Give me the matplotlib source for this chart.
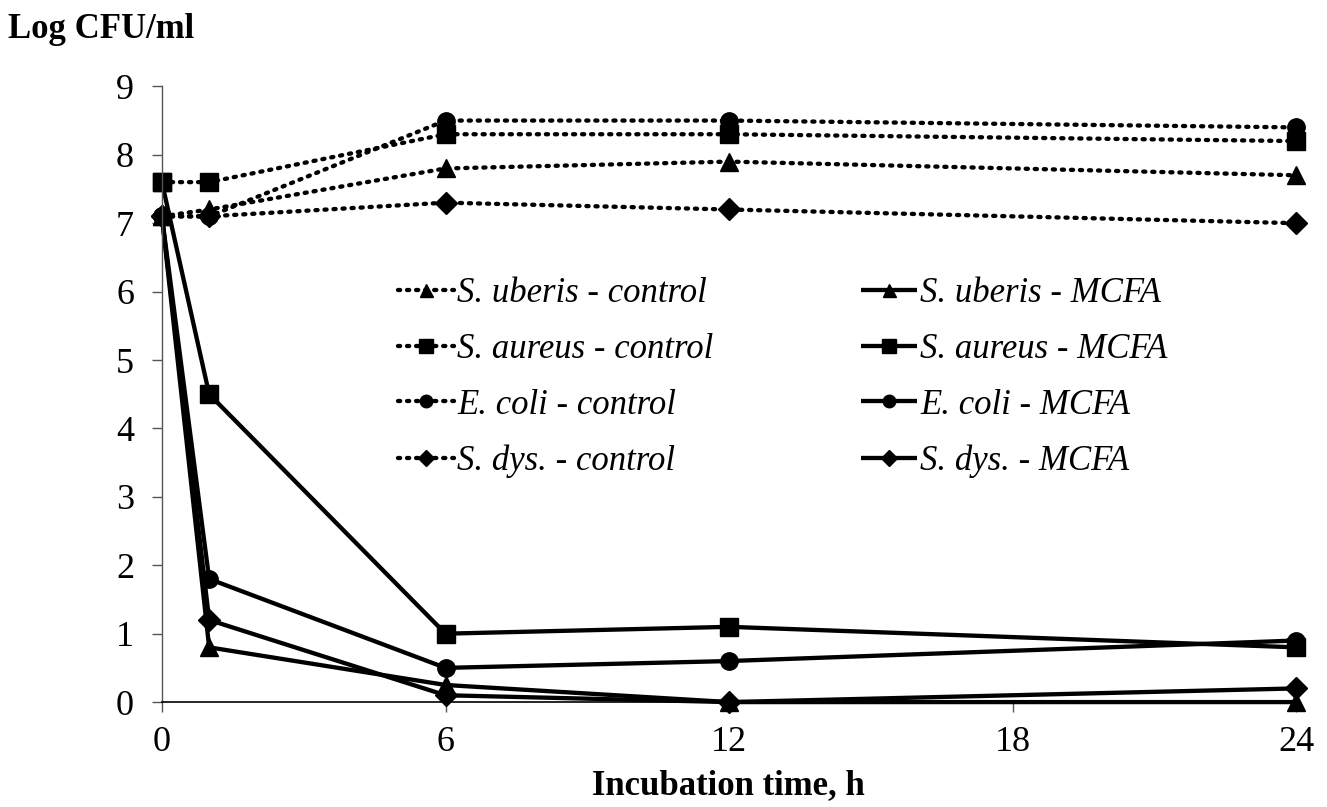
import matplotlib
matplotlib.use("Agg")
import matplotlib.pyplot as plt

time_h = [0, 1, 6, 12, 24]

uberis_control = [7.1, 7.2, 7.8, 7.9, 7.7]
aureus_control = [7.6, 7.6, 8.3, 8.3, 8.2]
ecoli_control = [7.1, 7.1, 8.5, 8.5, 8.4]
dys_control = [7.1, 7.1, 7.3, 7.2, 7.0]

uberis_mcfa = [7.1, 0.8, 0.25, 0.0, 0.0]
aureus_mcfa = [7.6, 4.5, 1.0, 1.1, 0.8]
ecoli_mcfa = [7.1, 1.8, 0.5, 0.6, 0.9]
dys_mcfa = [7.1, 1.2, 0.1, 0.0, 0.2]

x_ticks = [0, 6, 12, 18, 24]
y_ticks = [0, 1, 2, 3, 4, 5, 6, 7, 8, 9]

plt.rcParams['font.family'] = ['Liberation Serif', 'DejaVu Serif']

fig = plt.figure(figsize=(13.27, 8.07), dpi=100)
ax = fig.add_axes([0.122, 0.130, 0.855, 0.763])

lw = 3.1
dot = (0, (0.5, 1.6))
series = [
    (uberis_control, '^', dot, 'S. uberis - control'),
    (aureus_control, 's', dot, 'S. aureus - control'),
    (ecoli_control, 'o', dot, 'E. coli - control'),
    (dys_control, 'D', dot, 'S. dys. - control'),
    (uberis_mcfa, '^', '-', 'S. uberis - MCFA'),
    (aureus_mcfa, 's', '-', 'S. aureus - MCFA'),
    (ecoli_mcfa, 'o', '-', 'E. coli - MCFA'),
    (dys_mcfa, 'D', '-', 'S. dys. - MCFA'),
]
msize = {'^': 13, 's': 13.5, 'o': 12.5, 'D': 11}
for vals, m, ls, lab in series:
    ax.plot(time_h, vals, color='black', linestyle=ls, linewidth=lw,
            marker=m, markersize=msize[m], markerfacecolor='black',
            markeredgecolor='black', label=lab, clip_on=False,
            dash_capstyle='round', solid_capstyle='butt')

ax.set_xlim(0, 24)
ax.set_ylim(0, 9)
ax.set_xticks(x_ticks)
ax.set_yticks(y_ticks)
ax.spines['top'].set_visible(False)
ax.spines['right'].set_visible(False)
ax.spines['left'].set_linewidth(1.0)
ax.spines['left'].set_color('#555555')
ax.spines['bottom'].set_linewidth(1.2)
ax.spines['bottom'].set_color('black')
ax.tick_params(axis='both', direction='out', length=7, width=1.0,
               color='#555555', labelsize=26)
ax.tick_params(axis='y', pad=13)
ax.tick_params(axis='x', pad=10)

fig.text(0.006, 0.963, 'Log CFU/ml', fontsize=25, fontweight='bold',
         ha='left', va='center')
fig.text(0.549, 0.027, 'Incubation time, h', fontsize=25, fontweight='bold',
         ha='center', va='center')

leg = ax.legend(ncol=2, loc='upper left', bbox_to_anchor=(0.300, 0.657),
                bbox_transform=fig.transFigure, frameon=False,
                prop={'style': 'italic', 'size': 25}, handlelength=1.6,
                handletextpad=0.1, columnspacing=4.25, labelspacing=0.66,
                borderpad=0, borderaxespad=0, markerscale=0.72)

fig.savefig('out.png', dpi=100)
